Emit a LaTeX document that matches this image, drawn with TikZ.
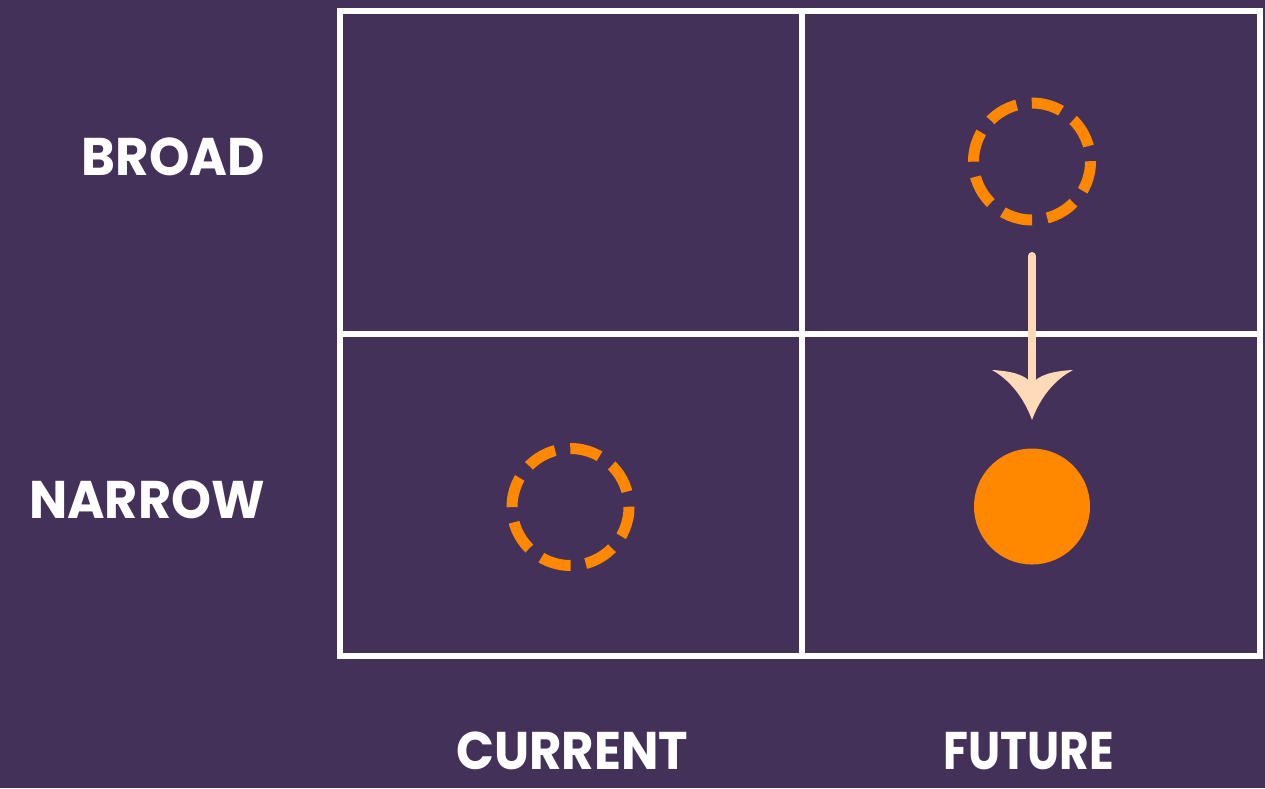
\documentclass[tikz,border=0pt]{standalone}
\usepackage{fontspec}
\setmainfont{Poppins}
\definecolor{bgpurple}{RGB}{67,49,90}
\definecolor{dotorange}{RGB}{255,136,0}
\definecolor{peach}{RGB}{255,218,185}
\begin{document}
\begin{tikzpicture}[x=1pt,y=-1pt,
  gridline/.style={draw=white,line width=6pt},
  label/.style={text=white,inner sep=0pt,font=\fontsize{53}{60}\selectfont\bfseries,transform shape},
  dashring/.style={draw=dotorange,line width=11pt,dash pattern=on 30.6pt off 15.3pt},
]
\useasboundingbox (0,0) rectangle (1265,788);
\fill[bgpurple] (0,0) rectangle (1265,788);
% grid
\draw[gridline] (340,10.5) rectangle (1259.5,656);
\draw[gridline] (801.5,10.5) -- (801.5,656);
\draw[gridline] (340,333.5) -- (1259.5,333.5);
% labels
\node[label,anchor=east,xscale=0.97] (broad) at (265,157) {BROAD};
\node[label,anchor=east,xscale=0.96] (narrow) at (265,500) {NARROW};
\node[label,xscale=0.94] (current) at (572,751) {CURRENT};
\node[label,xscale=0.86] (future) at (1029,751) {FUTURE};
% circles
\coordinate (topc) at (1032,161.5);
\coordinate (botc) at (570.5,507);
\draw[dashring] (topc) ++(58.5,0) arc[start angle=0,end angle=360,radius=58.5];
\draw[dashring] (botc) ++(58.5,0) arc[start angle=0,end angle=360,radius=58.5];
\fill[dotorange] (1032,506.5) circle[radius=58];
% arrow
\coordinate (astart) at (1032,256);
\coordinate (anotch) at (1032,384);
\coordinate (atip) at (1032,420);
\coordinate (lwing) at (992,370);
\coordinate (rwing) at (1073,370);
\draw[peach,line width=8pt,line cap=round] (astart) -- (anotch);
\fill[peach] (atip) .. controls (1024,398) and (1010,380) .. (lwing)
  .. controls (1012,371) and (1026,375) .. (anotch)
  .. controls (1038,375) and (1053,371) .. (rwing)
  .. controls (1054,380) and (1040,398) .. (atip) -- cycle;
\end{tikzpicture}
\end{document}
